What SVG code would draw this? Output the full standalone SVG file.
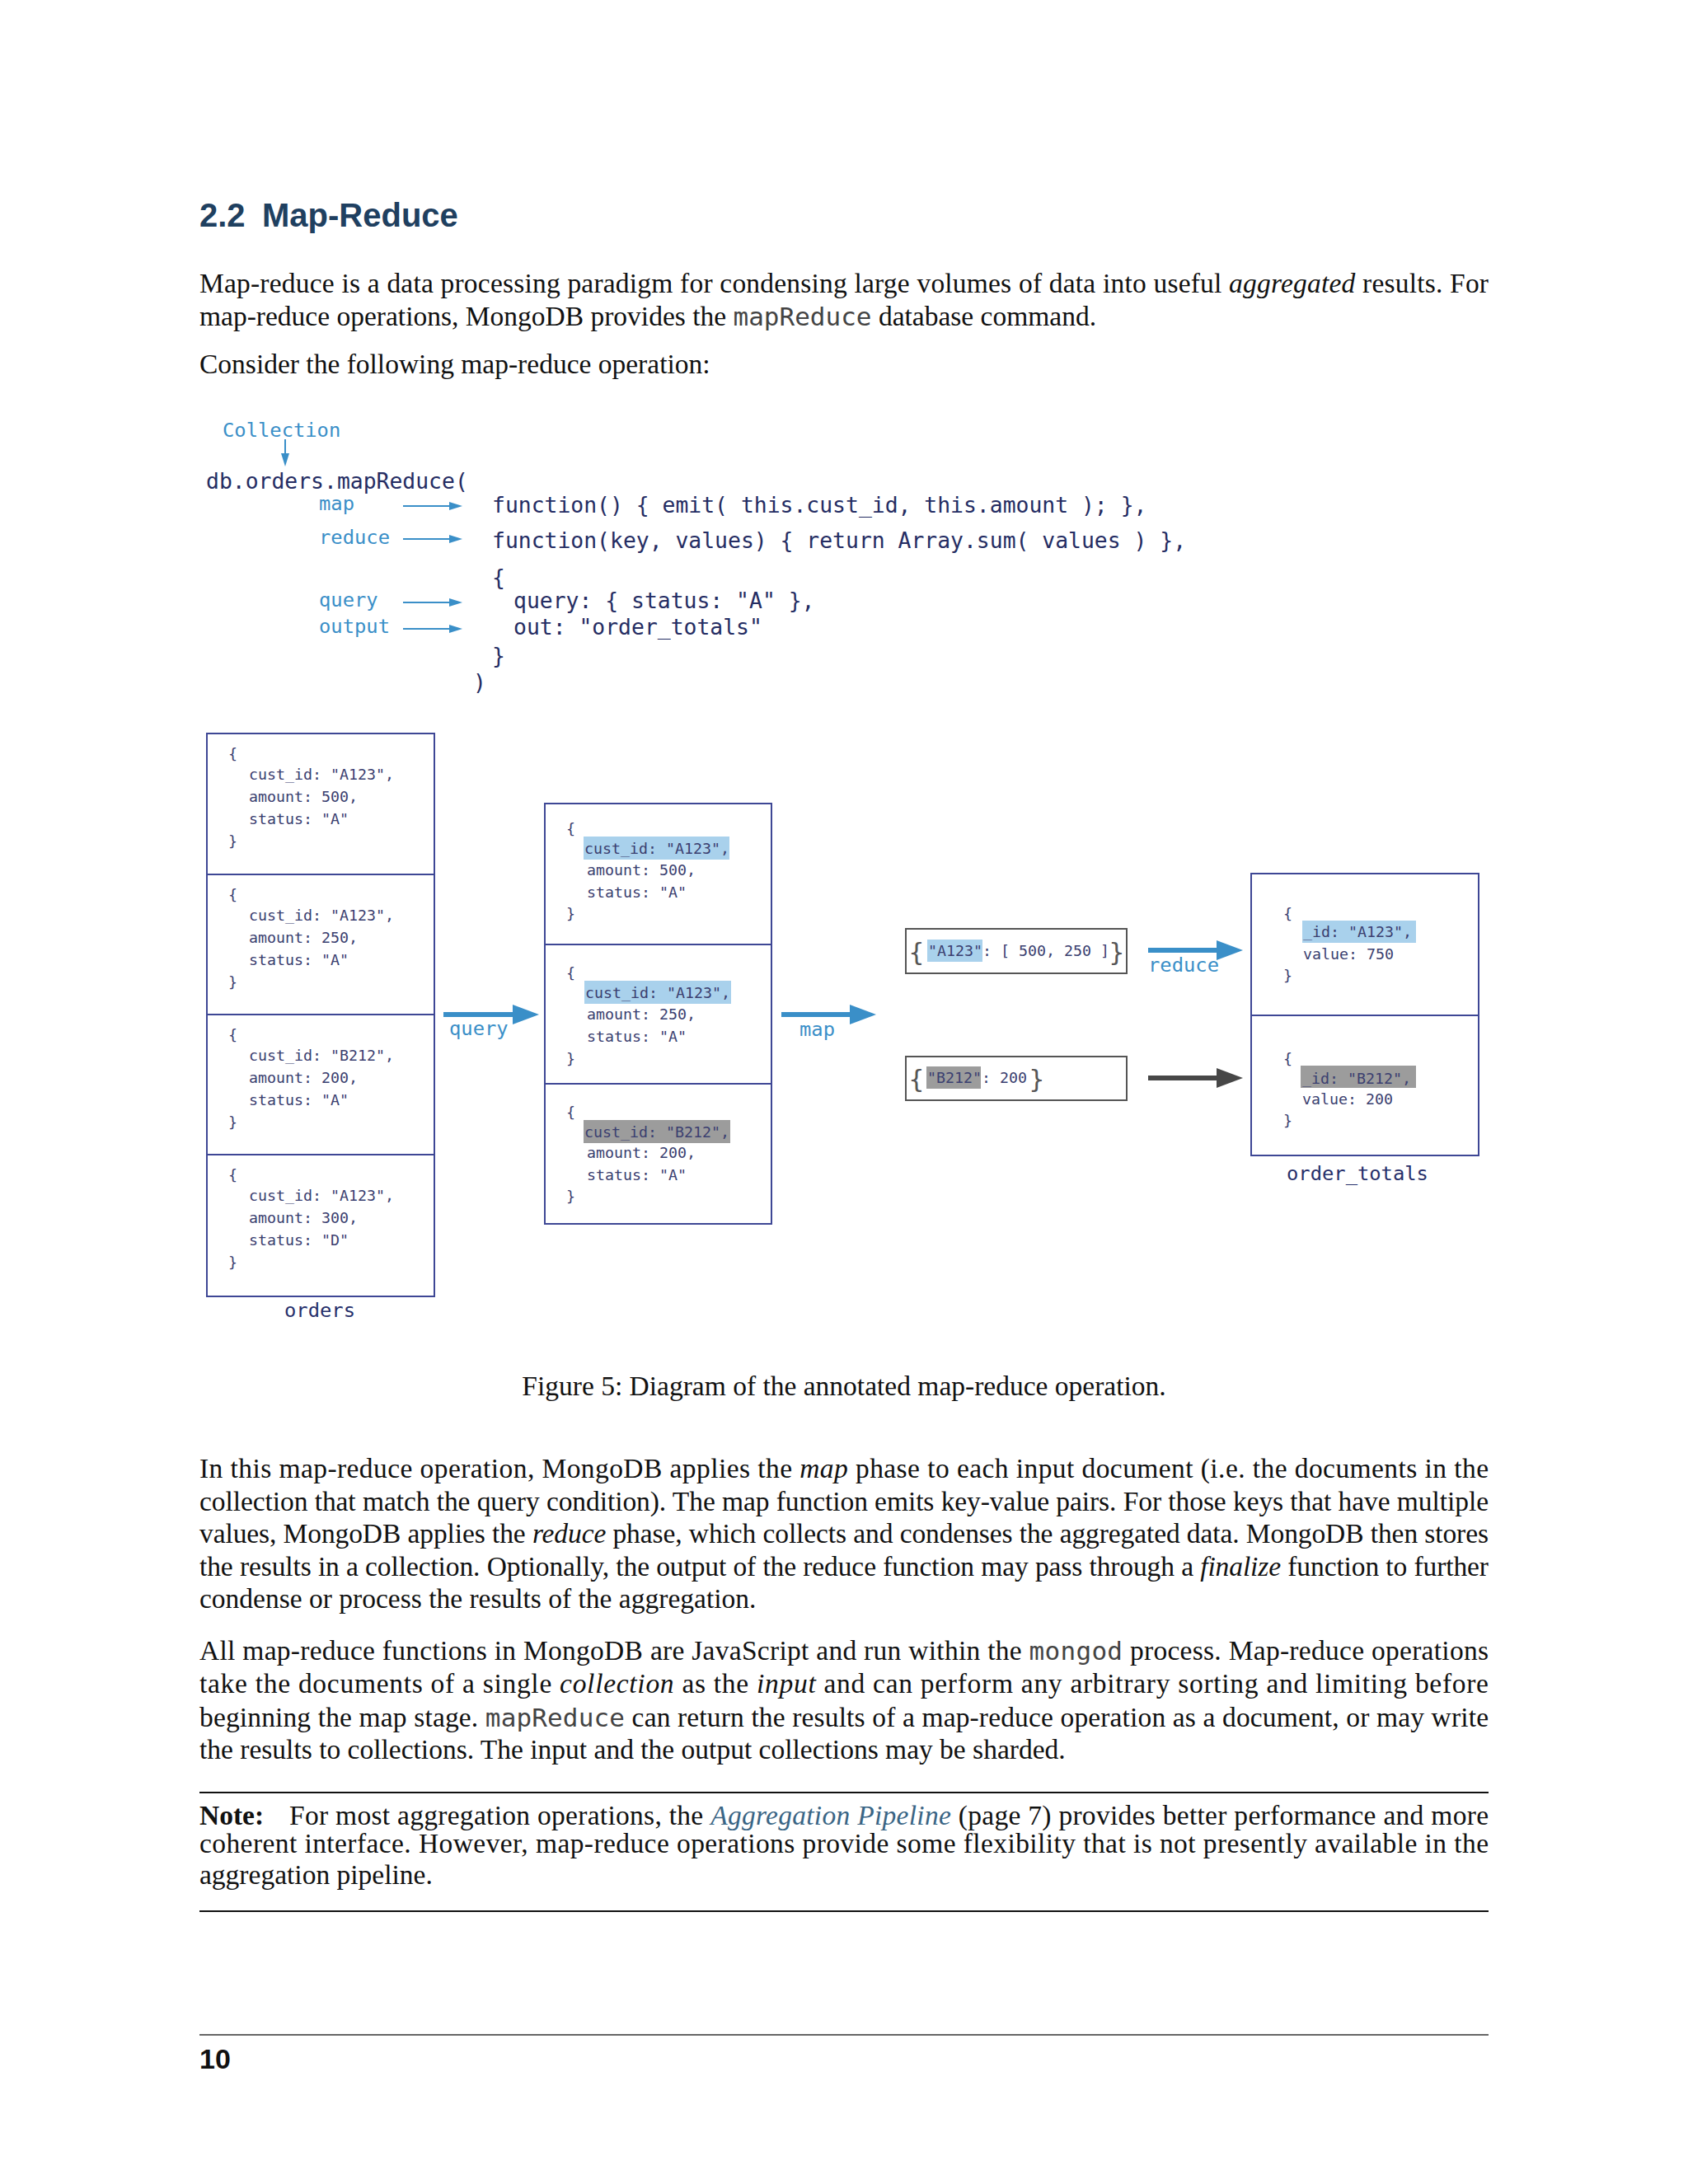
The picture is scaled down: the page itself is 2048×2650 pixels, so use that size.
<svg xmlns="http://www.w3.org/2000/svg" width="2048" height="2650" viewBox="0 0 2048 2650">
<style>
.t{font-family:"Liberation Serif",serif;font-size:33.5px;fill:#111}
.it{font-style:italic}
.bd{font-weight:bold}
.im{font-family:"DejaVu Sans Mono",monospace;font-size:31px;fill:#444}
.lnk{fill:#3a6585}
.h{font-family:"Liberation Sans",Arial,sans-serif;font-weight:bold;font-size:40px;fill:#1f4060}
.code{font-family:"DejaVu Sans Mono",monospace;font-size:26.4px;fill:#252d63}
.lbl{font-family:"DejaVu Sans Mono",monospace;font-size:23.8px;fill:#3a8fc8}
.doc{font-family:"DejaVu Sans Mono",monospace;font-size:18.3px;fill:#3b4070}
.cap{font-family:"DejaVu Sans Mono",monospace;font-size:23.8px;fill:#27306b}
.br{font-family:"DejaVu Sans",sans-serif;font-size:31px;fill:#555}
.box{fill:#fff;stroke:#3e4795;stroke-width:2}
.gbox{fill:#fff;stroke:#555;stroke-width:2}
.hlb{fill:#a9d1ec}
.hlg{fill:#9c9c9c}
.sarr{stroke:#3a8fc8;stroke-width:2;fill:none}
.barr{stroke:#3a8fc8;stroke-width:6;fill:none}
.karr{stroke:#474747;stroke-width:6;fill:none}
.rule{stroke:#111;stroke-width:2}
</style>
<defs>
<marker id="sh" markerUnits="userSpaceOnUse" markerWidth="16" markerHeight="10" refX="0" refY="5" orient="auto"><path d="M0,0 L16,5 L0,10 z" fill="#3a8fc8"/></marker>
<marker id="bh" markerUnits="userSpaceOnUse" markerWidth="32" markerHeight="24" refX="0" refY="12" orient="auto"><path d="M0,0 L32,12 L0,24 z" fill="#3a8fc8"/></marker>
<marker id="kh" markerUnits="userSpaceOnUse" markerWidth="32" markerHeight="24" refX="0" refY="12" orient="auto"><path d="M0,0 L32,12 L0,24 z" fill="#474747"/></marker>
</defs>
<rect width="2048" height="2650" fill="#fff"/>

<g id="heading">
<text class="h" x="242" y="275">2.2</text>
<text class="h" x="318" y="275">Map-Reduce</text>
</g>

<g id="intro">
<text class="t" x="242" y="355" textLength="1564" lengthAdjust="spacing">Map-reduce is a data processing paradigm for condensing large volumes of data into useful <tspan class="it">aggregated</tspan> results.  For</text>
<text class="t" x="242" y="395">map-reduce operations, MongoDB provides the <tspan class="im">mapReduce</tspan> database command.</text>
<text class="t" x="242" y="453">Consider the following map-reduce operation:</text>
</g>

<g id="code">
<text class="lbl" x="270" y="530">Collection</text>
<text class="code" x="250" y="593">db.orders.mapReduce(</text>
<text class="lbl" x="387" y="619">map</text>
<text class="lbl" x="387" y="660">reduce</text>
<text class="lbl" x="387" y="736">query</text>
<text class="lbl" x="387" y="768">output</text>
<text class="code" x="597" y="622">function() { emit( this.cust_id, this.amount ); },</text>
<text class="code" x="597" y="665">function(key, values) { return Array.sum( values ) },</text>
<text class="code" x="597" y="710">{</text>
<text class="code" x="623" y="738">query: { status: "A" },</text>
<text class="code" x="623" y="770">out: "order_totals"</text>
<text class="code" x="597" y="805">}</text>
<text class="code" x="574" y="837">)</text>
</g>

<g id="orders">
<rect class="box" x="251" y="890" width="276" height="683"/>
<line x1="251" y1="1061" x2="527" y2="1061" stroke="#3e4795" stroke-width="2"/>
<line x1="251" y1="1231" x2="527" y2="1231" stroke="#3e4795" stroke-width="2"/>
<line x1="251" y1="1401" x2="527" y2="1401" stroke="#3e4795" stroke-width="2"/>
<g class="doc">
<text x="277" y="921">{</text>
<text x="302" y="946">cust_id: "A123",</text>
<text x="302" y="973">amount: 500,</text>
<text x="302" y="1000">status: "A"</text>
<text x="277" y="1027">}</text>
<text x="277" y="1092">{</text>
<text x="302" y="1117">cust_id: "A123",</text>
<text x="302" y="1144">amount: 250,</text>
<text x="302" y="1171">status: "A"</text>
<text x="277" y="1198">}</text>
<text x="277" y="1262">{</text>
<text x="302" y="1287">cust_id: "B212",</text>
<text x="302" y="1314">amount: 200,</text>
<text x="302" y="1341">status: "A"</text>
<text x="277" y="1368">}</text>
<text x="277" y="1432">{</text>
<text x="302" y="1457">cust_id: "A123",</text>
<text x="302" y="1484">amount: 300,</text>
<text x="302" y="1511">status: "D"</text>
<text x="277" y="1538">}</text>
</g>
<text class="cap" x="345" y="1598">orders</text>
</g>

<g id="queried">
<rect class="box" x="661" y="975" width="275" height="510"/>
<line x1="661" y1="1146" x2="936" y2="1146" stroke="#3e4795" stroke-width="2"/>
<line x1="661" y1="1315" x2="936" y2="1315" stroke="#3e4795" stroke-width="2"/>
<rect class="hlb" x="708" y="1015" width="177" height="28"/>
<rect class="hlb" x="709" y="1190" width="178" height="28"/>
<rect class="hlg" x="708" y="1359" width="178" height="28"/>
<g class="doc">
<text x="687" y="1012">{</text>
<text x="709" y="1036">cust_id: "A123",</text>
<text x="712" y="1062">amount: 500,</text>
<text x="712" y="1089">status: "A"</text>
<text x="687" y="1115">}</text>
<text x="687" y="1187">{</text>
<text x="710" y="1211">cust_id: "A123",</text>
<text x="712" y="1237">amount: 250,</text>
<text x="712" y="1264">status: "A"</text>
<text x="687" y="1291">}</text>
<text x="687" y="1356">{</text>
<text x="709" y="1380">cust_id: "B212",</text>
<text x="712" y="1405">amount: 200,</text>
<text x="712" y="1432">status: "A"</text>
<text x="687" y="1458">}</text>
</g>
</g>

<g id="emitA">
<rect class="gbox" x="1099" y="1127" width="268" height="54"/>
<rect class="hlb" x="1125" y="1140" width="67" height="27"/>
<text class="br" x="1102" y="1166">{</text>
<text class="doc" x="1126" y="1160">"A123": [ 500, 250 ]</text>
<text class="br" x="1345" y="1166">}</text>
</g>

<g id="emitB">
<rect class="gbox" x="1099" y="1282" width="268" height="53"/>
<rect class="hlg" x="1124" y="1294" width="66" height="27"/>
<text class="br" x="1102" y="1320">{</text>
<text class="doc" x="1125" y="1314">"B212": 200</text>
<text class="br" x="1248" y="1320">}</text>
</g>

<g id="order_totals">
<rect class="box" x="1518" y="1060" width="276" height="342"/>
<line x1="1518" y1="1232" x2="1794" y2="1232" stroke="#3e4795" stroke-width="2"/>
<rect class="hlb" x="1580" y="1117" width="138" height="27"/>
<rect class="hlg" x="1578" y="1293" width="140" height="27"/>
<g class="doc">
<text x="1557" y="1115">{</text>
<text x="1581" y="1137">_id: "A123",</text>
<text x="1581" y="1164">value: 750</text>
<text x="1557" y="1190">}</text>
<text x="1557" y="1291">{</text>
<text x="1580" y="1315">_id: "B212",</text>
<text x="1580" y="1340">value: 200</text>
<text x="1557" y="1366">}</text>
</g>
<text class="cap" x="1561" y="1432">order_totals</text>
</g>

<g id="connectors">
<line class="sarr" x1="346" y1="533" x2="346" y2="550" marker-end="url(#sh)"/>
<line class="sarr" x1="489" y1="614" x2="545" y2="614" marker-end="url(#sh)"/>
<line class="sarr" x1="489" y1="654" x2="545" y2="654" marker-end="url(#sh)"/>
<line class="sarr" x1="489" y1="731" x2="545" y2="731" marker-end="url(#sh)"/>
<line class="sarr" x1="489" y1="763" x2="545" y2="763" marker-end="url(#sh)"/>
<line class="barr" x1="538" y1="1231" x2="622" y2="1231" marker-end="url(#bh)"/>
<line class="barr" x1="948" y1="1231" x2="1031" y2="1231" marker-end="url(#bh)"/>
<line class="barr" x1="1393" y1="1153" x2="1476" y2="1153" marker-end="url(#bh)"/>
<line class="karr" x1="1393" y1="1308" x2="1476" y2="1308" marker-end="url(#kh)"/>
<text class="lbl" x="545" y="1256">query</text>
<text class="lbl" x="970" y="1257">map</text>
<text class="lbl" x="1393" y="1179">reduce</text>
</g>

<g id="caption">
<text class="t" x="1024" y="1693" text-anchor="middle">Figure 5: Diagram of the annotated map-reduce operation.</text>
</g>

<g id="para2">
<text class="t" x="242" y="1793" textLength="1564" lengthAdjust="spacing">In this map-reduce operation, MongoDB applies the <tspan class="it">map</tspan> phase to each input document (i.e.  the documents in the</text>
<text class="t" x="242" y="1833" textLength="1564" lengthAdjust="spacing">collection that match the query condition). The map function emits key-value pairs. For those keys that have multiple</text>
<text class="t" x="242" y="1872" textLength="1564" lengthAdjust="spacing">values, MongoDB applies the <tspan class="it">reduce</tspan> phase, which collects and condenses the aggregated data. MongoDB then stores</text>
<text class="t" x="242" y="1912" textLength="1564" lengthAdjust="spacing">the results in a collection. Optionally, the output of the reduce function may pass through a <tspan class="it">finalize</tspan> function to further</text>
<text class="t" x="242" y="1951">condense or process the results of the aggregation.</text>
</g>

<g id="para3">
<text class="t" x="242" y="2014" textLength="1564" lengthAdjust="spacing">All map-reduce functions in MongoDB are JavaScript and run within the <tspan class="im">mongod</tspan> process.  Map-reduce operations</text>
<text class="t" x="242" y="2054" textLength="1564" lengthAdjust="spacing">take the documents of a single <tspan class="it">collection</tspan> as the <tspan class="it">input</tspan> and can perform any arbitrary sorting and limiting before</text>
<text class="t" x="242" y="2095" textLength="1564" lengthAdjust="spacing">beginning the map stage. <tspan class="im">mapReduce</tspan> can return the results of a map-reduce operation as a document, or may write</text>
<text class="t" x="242" y="2134">the results to collections. The input and the output collections may be sharded.</text>
</g>

<g id="note">
<line class="rule" x1="242" y1="2175" x2="1806" y2="2175"/>
<text class="t bd" x="242" y="2214">Note:</text>
<text class="t" x="351" y="2214" textLength="1455" lengthAdjust="spacing">For most aggregation operations, the <tspan class="it lnk">Aggregation Pipeline</tspan> (page 7) provides better performance and more</text>
<text class="t" x="242" y="2248" textLength="1564" lengthAdjust="spacing">coherent interface.  However, map-reduce operations provide some flexibility that is not presently available in the</text>
<text class="t" x="242" y="2286">aggregation pipeline.</text>
<line class="rule" x1="242" y1="2319" x2="1806" y2="2319"/>
</g>

<g id="footer">
<line x1="242" y1="2469" x2="1806" y2="2469" stroke="#333" stroke-width="1.5"/>
<text x="242" y="2510" font-family="Liberation Sans, Arial, sans-serif" font-weight="bold" font-size="34" fill="#111">10</text>
</g>
</svg>
